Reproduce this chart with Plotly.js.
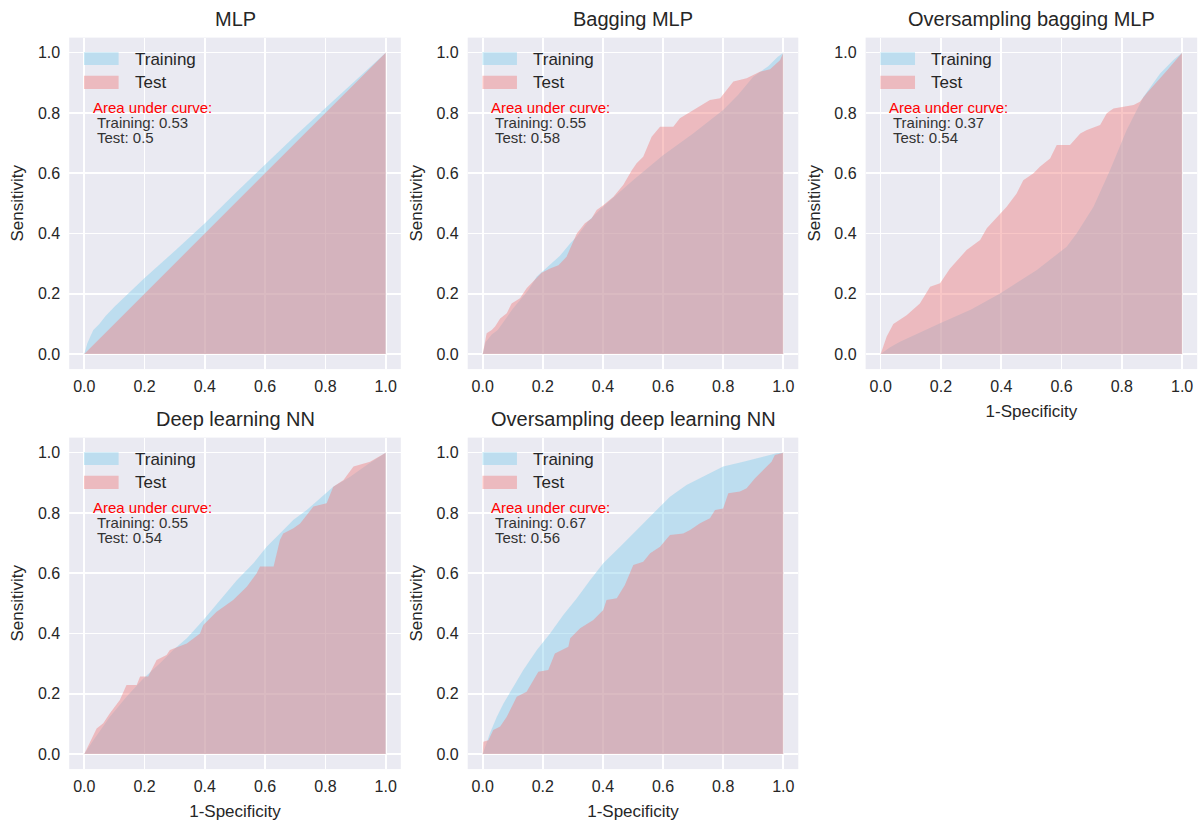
<!DOCTYPE html>
<html>
<head>
<meta charset="utf-8">
<script src="https://cdn.plot.ly/plotly-3.0.1.min.js"></script>
<style>html,body{margin:0;padding:0;background:#fff;}#chart{width:1201px;height:823px;}</style>
</head>
<body>
<div id="chart"></div>
<script>
// ---------- data ----------
const panelTitles = ["MLP", "Bagging MLP", "Oversampling bagging MLP", "Deep learning NN", "Oversampling deep learning NN"];
const aucTraining = ["0.53", "0.55", "0.37", "0.55", "0.67"];
const aucTest = ["0.5", "0.58", "0.54", "0.54", "0.56"];
const tickValues = [0, 0.2, 0.4, 0.6, 0.8, 1.0];
const tickLabels = ["0.0", "0.2", "0.4", "0.6", "0.8", "1.0"];

// MLP
const mlpTrainX = [0, 0.01, 0.02, 0.03, 0.05, 0.07, 0.1, 0.13, 0.2, 0.3, 0.4, 0.5, 0.6, 0.7, 0.8, 0.9, 1];
const mlpTrainY = [0, 0.035, 0.058, 0.08, 0.1, 0.125, 0.157, 0.185, 0.252, 0.342, 0.434, 0.533, 0.63, 0.724, 0.816, 0.908, 1];
const mlpTestX = [0, 1];
const mlpTestY = [0, 1];

// Bagging MLP
const bagTrainX = [0, 0.01, 0.03, 0.05, 0.1, 0.15, 0.18, 0.224, 0.257, 0.29, 0.313, 0.35, 0.4, 0.5, 0.6, 0.7, 0.8, 0.85, 0.9, 0.95, 0.98, 1];
const bagTrainY = [0, 0.04, 0.065, 0.08, 0.15, 0.21, 0.257, 0.297, 0.326, 0.366, 0.39, 0.44, 0.489, 0.577, 0.66, 0.732, 0.81, 0.86, 0.92, 0.955, 0.985, 1];
const bagTestX = [0, 0.013, 0.03, 0.041, 0.058, 0.08, 0.096, 0.124, 0.146, 0.174, 0.196, 0.224, 0.252, 0.279, 0.296, 0.313, 0.34, 0.362, 0.379, 0.401, 0.435, 0.468, 0.496, 0.512, 0.534, 0.562, 0.59, 0.634, 0.656, 0.701, 0.756, 0.79, 0.812, 0.834, 0.878, 0.922, 0.956, 0.989, 1];
const bagTestY = [0, 0.069, 0.08, 0.091, 0.118, 0.135, 0.168, 0.185, 0.218, 0.246, 0.27, 0.284, 0.295, 0.323, 0.362, 0.4, 0.434, 0.45, 0.478, 0.494, 0.522, 0.562, 0.61, 0.633, 0.655, 0.721, 0.754, 0.754, 0.782, 0.81, 0.843, 0.849, 0.876, 0.904, 0.915, 0.937, 0.945, 0.975, 1];

// Oversampling bagging MLP
const osbTrainX = [0, 0.03, 0.064, 0.13, 0.197, 0.3, 0.396, 0.518, 0.617, 0.65, 0.706, 0.761, 0.816, 0.872, 0.927, 0.971, 1];
const osbTrainY = [0, 0.022, 0.041, 0.072, 0.102, 0.148, 0.201, 0.279, 0.356, 0.4, 0.489, 0.611, 0.743, 0.854, 0.931, 0.976, 1];
const osbTestX = [0, 0.02, 0.042, 0.086, 0.13, 0.164, 0.197, 0.23, 0.285, 0.33, 0.352, 0.396, 0.418, 0.451, 0.473, 0.507, 0.529, 0.562, 0.584, 0.628, 0.662, 0.684, 0.728, 0.75, 0.772, 0.839, 0.86, 0.883, 0.905, 0.949, 1];
const osbTestY = [0, 0.058, 0.1, 0.129, 0.168, 0.223, 0.235, 0.284, 0.345, 0.378, 0.417, 0.467, 0.489, 0.533, 0.577, 0.6, 0.622, 0.649, 0.694, 0.694, 0.732, 0.743, 0.76, 0.799, 0.815, 0.826, 0.837, 0.866, 0.89, 0.94, 1];

// Deep learning NN
const dlTrainX = [0, 0.03, 0.085, 0.14, 0.196, 0.251, 0.295, 0.34, 0.395, 0.45, 0.506, 0.561, 0.605, 0.649, 0.694, 0.738, 0.793, 0.826, 0.882, 0.937, 1];
const dlTrainY = [0, 0.046, 0.124, 0.19, 0.251, 0.301, 0.345, 0.384, 0.445, 0.511, 0.577, 0.633, 0.688, 0.732, 0.777, 0.81, 0.86, 0.887, 0.92, 0.959, 1];
const dlTestX = [0, 0.019, 0.041, 0.063, 0.085, 0.118, 0.14, 0.174, 0.185, 0.212, 0.24, 0.273, 0.284, 0.34, 0.384, 0.395, 0.439, 0.494, 0.539, 0.572, 0.583, 0.628, 0.649, 0.66, 0.694, 0.716, 0.76, 0.804, 0.826, 0.86, 0.893, 0.948, 1];
const dlTestY = [0, 0.041, 0.085, 0.102, 0.135, 0.179, 0.229, 0.229, 0.257, 0.257, 0.312, 0.329, 0.345, 0.367, 0.4, 0.428, 0.472, 0.511, 0.555, 0.6, 0.622, 0.622, 0.71, 0.732, 0.749, 0.765, 0.821, 0.832, 0.887, 0.909, 0.954, 0.97, 1];

// Oversampling deep learning NN
const osdTrainX = [0, 0.024, 0.047, 0.069, 0.102, 0.135, 0.18, 0.224, 0.268, 0.313, 0.357, 0.401, 0.457, 0.512, 0.568, 0.623, 0.678, 0.734, 0.8, 0.867, 0.933, 0.978, 1];
const osdTrainY = [0, 0.069, 0.124, 0.168, 0.223, 0.279, 0.345, 0.4, 0.461, 0.517, 0.577, 0.633, 0.688, 0.743, 0.799, 0.854, 0.893, 0.92, 0.954, 0.97, 0.987, 0.998, 1];
const osdTestX = [0, 0.002, 0.019, 0.035, 0.058, 0.08, 0.102, 0.113, 0.146, 0.163, 0.185, 0.218, 0.24, 0.285, 0.291, 0.324, 0.368, 0.401, 0.412, 0.446, 0.473, 0.501, 0.534, 0.557, 0.59, 0.623, 0.667, 0.69, 0.723, 0.756, 0.773, 0.8, 0.817, 0.856, 0.878, 0.906, 0.933, 0.961, 0.972, 1];
const osdTestY = [0, 0.041, 0.046, 0.08, 0.091, 0.124, 0.168, 0.19, 0.207, 0.235, 0.273, 0.279, 0.334, 0.356, 0.384, 0.417, 0.445, 0.478, 0.511, 0.517, 0.561, 0.627, 0.638, 0.666, 0.688, 0.727, 0.732, 0.743, 0.766, 0.782, 0.81, 0.815, 0.865, 0.871, 0.882, 0.915, 0.942, 0.97, 0.992, 1];

const trainXs = [mlpTrainX, bagTrainX, osbTrainX, dlTrainX, osdTrainX];
const trainYs = [mlpTrainY, bagTrainY, osbTrainY, dlTrainY, osdTrainY];
const testXs = [mlpTestX, bagTestX, osbTestX, dlTestX, osdTestX];
const testYs = [mlpTestY, bagTestY, osbTestY, dlTestY, osdTestY];

// ---------- layout ----------
const W = 1201, H = 823;
const colPx = [[69.2, 400.8], [467.7, 798.3], [865.6, 1197.2]];
const rowPx = [[37.6, 369.1], [437.6, 769.1]];
const panelPos = [[0, 0], [1, 0], [2, 0], [0, 1], [1, 1]];
const showXTitle = [false, false, true, true, true];

const trainFill = "rgba(135,206,235,0.45)";
const testFill = "rgba(240,128,128,0.45)";
const textDark = "#262626";
const fontFam = "Liberation Sans, Arial, sans-serif";

const traces = [];
const layout = {
  width: W, height: H,
  margin: {l: 0, r: 0, t: 0, b: 0},
  paper_bgcolor: "#ffffff",
  plot_bgcolor: "#EAEAF2",
  showlegend: false,
  font: {family: fontFam, color: textDark},
  shapes: [], annotations: []
};

for (let i = 0; i < 5; i++) {
  const n = i === 0 ? "" : String(i + 1);
  const xa = "x" + n, ya = "y" + n;
  const [c, r] = panelPos[i];
  traces.push({
    x: trainXs[i], y: trainYs[i], xaxis: xa, yaxis: ya, type: "scatter", mode: "lines",
    fill: "tozeroy", fillcolor: trainFill, line: {width: 0, color: trainFill}, name: "Training", hoverinfo: "skip"
  });
  traces.push({
    x: testXs[i], y: testYs[i], xaxis: xa, yaxis: ya, type: "scatter", mode: "lines",
    fill: "tozeroy", fillcolor: testFill, line: {width: 0, color: testFill}, name: "Test", hoverinfo: "skip"
  });
  const axCommon = {
    range: [-0.05, 1.05], tickvals: tickValues, ticktext: tickLabels,
    showgrid: true, gridcolor: "#ffffff", gridwidth: 1.6, zeroline: false, showline: false,
    ticks: "", tickfont: {size: 16, color: textDark, family: fontFam}, fixedrange: true
  };
  layout["xaxis" + n] = Object.assign({}, axCommon, {
    domain: [colPx[c][0] / W, colPx[c][1] / W], anchor: ya, ticklabelstandoff: 6,
    title: showXTitle[i] ? {text: "1-Specificity", font: {size: 17, color: textDark, family: fontFam}, standoff: 11} : {text: ""}
  });
  layout["yaxis" + n] = Object.assign({}, axCommon, {
    domain: [1 - rowPx[r][1] / H, 1 - rowPx[r][0] / H], anchor: xa, ticklabelstandoff: 8,
    title: {text: "Sensitivity", font: {size: 17, color: textDark, family: fontFam}, standoff: 9}
  });
  const xd = xa + " domain", yd = ya + " domain";
  // subplot title
  layout.annotations.push({text: panelTitles[i], xref: xd, yref: yd, x: 0.5, y: 1, yshift: 18.5,
    xanchor: "center", yanchor: "middle", showarrow: false, font: {size: 20, color: textDark, family: fontFam}});
  // legend patches
  layout.shapes.push({type: "rect", xref: xd, yref: yd, x0: 0.0446, x1: 0.149, y0: 0.9173, y1: 0.9557,
    fillcolor: trainFill, line: {width: 0}});
  layout.shapes.push({type: "rect", xref: xd, yref: yd, x0: 0.0446, x1: 0.149, y0: 0.8449, y1: 0.8851,
    fillcolor: testFill, line: {width: 0}});
  layout.annotations.push({text: "Training", xref: xd, yref: yd, x: 0.191, y: 0.9354, xanchor: "left", yanchor: "middle",
    showarrow: false, font: {size: 17, color: textDark, family: fontFam}});
  layout.annotations.push({text: "Test", xref: xd, yref: yd, x: 0.191, y: 0.8652, xanchor: "left", yanchor: "middle",
    showarrow: false, font: {size: 17, color: textDark, family: fontFam}});
  // AUC text
  layout.annotations.push({text: "Area under curve:", xref: xd, yref: yd, x: 0.0657, y: 0.7885, xanchor: "left", yanchor: "middle",
    showarrow: false, font: {size: 15, color: "#ff0000", family: fontFam}});
  layout.annotations.push({text: "Training: " + aucTraining[i], xref: xd, yref: yd, x: 0.0778, y: 0.7445, xanchor: "left", yanchor: "middle",
    showarrow: false, font: {size: 15, color: "#333333", family: fontFam}});
  layout.annotations.push({text: "Test: " + aucTest[i], xref: xd, yref: yd, x: 0.0778, y: 0.6993, xanchor: "left", yanchor: "middle",
    showarrow: false, font: {size: 15, color: "#333333", family: fontFam}});
}

Plotly.newPlot("chart", traces, layout, {displayModeBar: false, staticPlot: true});
</script>
</body>
</html>
